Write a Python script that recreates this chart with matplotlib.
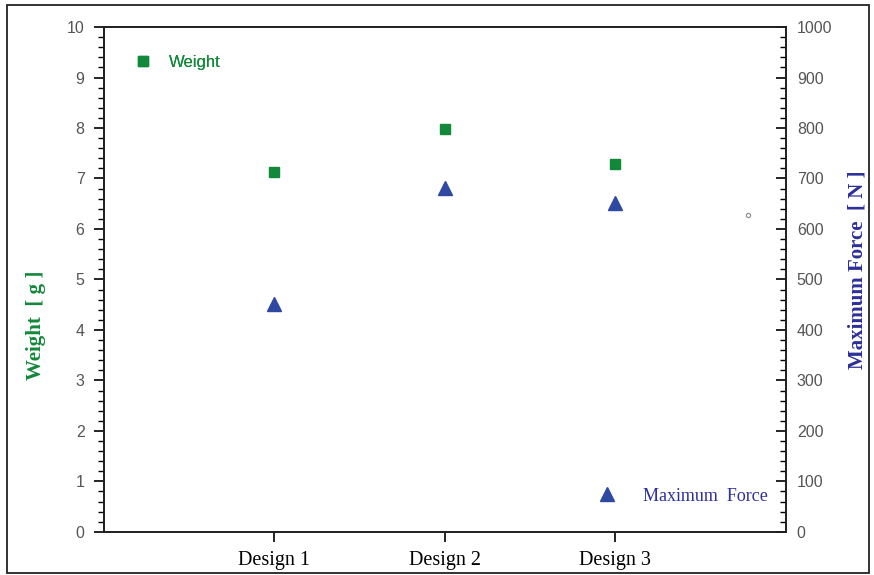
import matplotlib.pyplot as plt
from matplotlib.patches import Rectangle
from matplotlib.ticker import MultipleLocator, AutoMinorLocator

designs = ['Design 1', 'Design 2', 'Design 3']
weight_g = [7.12, 7.98, 7.28]
max_force_n = [452, 682, 652]
stray_x = [3.78]
stray_force = [628]

green = '#12883a'
blue = '#2f49a3'
label_blue = '#2d2f9a'
tick_grey = '#555555'

fig = plt.figure(figsize=(8.74, 5.75), dpi=100)
fig.patches.append(Rectangle((0.008, 0.003), 0.986, 0.988, transform=fig.transFigure,
                             fill=False, edgecolor='#222222', linewidth=1.3))
ax = fig.add_axes([0.119, 0.075, 0.78, 0.878])
ax2 = ax.twinx()

x = list(range(1, len(designs) + 1))
w, = ax.plot(x, weight_g, 's', color=green, markersize=6.5, linestyle='none', label='Weight')
f, = ax2.plot(x, max_force_n, '^', color=blue, markersize=10, linestyle='none', label='Maximum  Force')
ax2.plot(stray_x, stray_force, 'o', markerfacecolor='none', markeredgecolor='#888888',
         markersize=3, markeredgewidth=0.8)

ax.set_xlim(0, 4)
ax.set_ylim(0, 10)
ax2.set_ylim(0, 1000)
ax.set_xticks(x)
ax.set_xticklabels(designs, family='Liberation Serif', fontsize=14.5)
ax.yaxis.set_major_locator(MultipleLocator(1))
ax.yaxis.set_minor_locator(AutoMinorLocator(5))
ax2.yaxis.set_major_locator(MultipleLocator(100))
ax2.yaxis.set_minor_locator(AutoMinorLocator(5))

for a in (ax, ax2):
    for s in a.spines.values():
        s.set_linewidth(1.3)
        s.set_color('#222222')
ax.tick_params(axis='y', which='major', direction='out', length=7, width=1.2, labelsize=11.5,
               labelcolor=tick_grey, pad=7)
ax.tick_params(axis='x', direction='out', length=7, width=1.2, pad=7)
ax.tick_params(axis='y', which='minor', direction='out', length=4, width=1.0)
ax2.tick_params(axis='y', which='major', direction='in', length=7, width=1.2, labelsize=11.5,
                labelcolor=tick_grey, pad=8)
ax2.tick_params(axis='y', which='minor', direction='in', length=4, width=1.0)
for a in (ax, ax2):
    for lbl in a.get_yticklabels():
        lbl.set_family('Liberation Sans')

ax.set_ylabel('Weight  [ g ]', color=green, family='Liberation Serif', fontweight='bold', fontsize=15)
ax.yaxis.set_label_coords(-0.085, 0.41)
ax2.set_ylabel('Maximum Force  [ N ]', color=label_blue, family='Liberation Serif', fontweight='bold',
               fontsize=15)
ax2.yaxis.set_label_coords(1.09, 0.52)

leg1 = ax.legend(handles=[w], loc='upper left', bbox_to_anchor=(0.02, 0.975), frameon=False,
                 handletextpad=1.0, handlelength=1.2, prop={'family': 'Liberation Sans', 'size': 12})
for t in leg1.get_texts():
    t.set_color(green)
ax.add_artist(leg1)
leg2 = ax2.legend(handles=[f], loc='lower right', bbox_to_anchor=(0.998, 0.022), frameon=False,
                  handletextpad=1.4, handlelength=1.2, prop={'family': 'Liberation Serif', 'size': 13})
for t in leg2.get_texts():
    t.set_color(label_blue)

fig.savefig('out.png', dpi=100)
